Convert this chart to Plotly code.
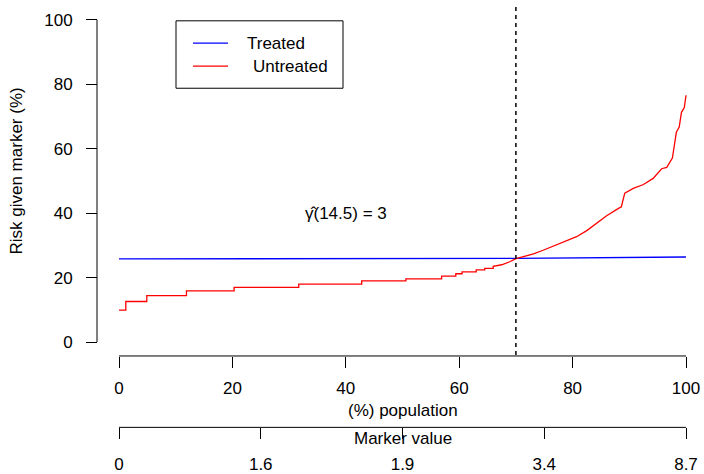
import plotly.graph_objects as go

# ---- data ----
pop_untreated = [0, 1.2, 1.2, 4.9, 4.9, 11.9, 11.9, 20.3, 20.3, 31.7, 31.7, 42.8, 42.8,
                 50.6, 50.6, 56.9, 56.9, 59.4, 59.4, 60.5, 60.5, 63, 63, 64.5, 64.5, 66, 66,
                 67.5, 69, 70, 71.5, 73.1, 74.8, 76.6, 78.4, 80.7, 82.5, 84.3, 86, 88.1,
                 88.6, 89.2, 90.7, 92.5, 94.2, 95.7, 96.6, 97.6, 98.3, 98.8, 99.2, 99.7, 100]
risk_untreated = [9.9, 9.9, 12.6, 12.6, 14.4, 14.4, 15.9, 15.9, 17.0, 17.0, 18.0, 18.0, 19.0,
                  19.0, 19.6, 19.6, 20.5, 20.5, 21.2, 21.2, 21.8, 21.8, 22.4, 22.4, 22.9, 22.9, 23.5,
                  24.0, 25.0, 25.9, 26.6, 27.4, 28.5, 29.8, 31.2, 32.7, 34.6, 36.9, 39.2, 41.5,
                  42.0, 46.2, 47.7, 48.9, 50.8, 53.8, 54.2, 57.1, 65.1, 66.7, 71.3, 72.8, 76.6]
pop_treated = [0, 70, 100]
risk_treated = [25.8, 26.0, 26.4]

cutoff_pop = 70
pop_ticks = [0, 20, 40, 60, 80, 100]
y_ticks = [0, 20, 40, 60, 80, 100]
marker_tick_pos = [0, 25, 50, 75, 100]
marker_tick_labels = ["0", "1.6", "1.9", "3.4", "8.7"]
legend_labels = ["Treated", "Untreated"]
annot_text = "γ\u0302(14.5) = 3"
annot_pos = (40, 40)

FONT = "Liberation Sans, Arial, sans-serif"
W, H = 704, 474
L = 97
PW = W - L
# pixel helpers for paper coords
def px(xp):
    return (xp - L) / PW
def py(yp):
    return 1 - yp / H

x_range = [-22 / 5.67, 100 + 18 / 5.67]
y_top = 345 / 3.25
y_bot = y_top - 359 / 3.25

fig = go.Figure()
fig.add_trace(go.Scatter(x=pop_treated, y=risk_treated, mode="lines",
                         line=dict(color="#0000FF", width=1.3), name=legend_labels[0],
                         showlegend=False, xaxis="x", yaxis="y"))
fig.add_trace(go.Scatter(x=pop_untreated, y=risk_untreated, mode="lines",
                         line=dict(color="#FF0000", width=1.3), name=legend_labels[1],
                         showlegend=False, xaxis="x", yaxis="y"))
# invisible trace to activate xaxis2
fig.add_trace(go.Scatter(x=[marker_tick_pos[0]], y=[None], mode="lines", showlegend=False,
                         xaxis="x2", yaxis="y", hoverinfo="skip"))

fig.update_layout(
    width=W, height=H,
    margin=dict(l=L, r=0, t=0, b=0),
    paper_bgcolor="white", plot_bgcolor="white",
    font=dict(family=FONT, size=17, color="black"),
    showlegend=False,
    xaxis=dict(range=x_range, domain=[0, 1], anchor="free", position=py(359),
               showgrid=False, zeroline=False, showline=False,
               tickmode="array", tickvals=pop_ticks, ticktext=[str(t) for t in pop_ticks],
               ticks="outside", ticklen=11, tickwidth=1, tickcolor="black",
               ticklabelstandoff=6, tickfont=dict(size=17)),
    xaxis2=dict(range=x_range, overlaying="x", anchor="free", position=py(431),
                showgrid=False, zeroline=False, showline=False,
                tickmode="array", tickvals=marker_tick_pos, ticktext=marker_tick_labels,
                ticks="outside", ticklen=11, tickwidth=1, tickcolor="black",
                ticklabelstandoff=10, tickfont=dict(size=17)),
    yaxis=dict(range=[y_bot, y_top], domain=[py(359), 1], anchor="free", position=0,
               showgrid=False, zeroline=False, showline=False,
               tickmode="array", tickvals=y_ticks, ticktext=[str(t) for t in y_ticks],
               ticks="outside", ticklen=11, tickwidth=1, tickcolor="black",
               ticklabelstandoff=10, tickfont=dict(size=17)),
)

shapes = []
# axis lines (R style: only spanning tick range)
shapes.append(dict(type="line", xref="paper", yref="y", x0=0, x1=0, y0=y_ticks[0], y1=y_ticks[-1],
                   line=dict(color="black", width=1)))
shapes.append(dict(type="line", xref="x", yref="paper", x0=pop_ticks[0], x1=pop_ticks[-1],
                   y0=py(359), y1=py(359), line=dict(color="black", width=1)))
shapes.append(dict(type="line", xref="x", yref="paper", x0=marker_tick_pos[0], x1=marker_tick_pos[-1],
                   y0=py(431), y1=py(431), line=dict(color="black", width=1)))
# cutoff dashed line
shapes.append(dict(type="line", xref="x", yref="y", x0=cutoff_pop, x1=cutoff_pop, y0=-4, y1=104,
                   line=dict(color="black", width=1.5, dash="4px,4px")))
# legend box
shapes.append(dict(type="rect", xref="paper", yref="paper", x0=px(176), x1=px(343),
                   y0=py(89), y1=py(21), line=dict(color="black", width=1), fillcolor="white"))
shapes.append(dict(type="line", xref="paper", yref="paper", x0=px(193), x1=px(228),
                   y0=py(43.5), y1=py(43.5), line=dict(color="#0000FF", width=1.3)))
shapes.append(dict(type="line", xref="paper", yref="paper", x0=px(193), x1=px(228),
                   y0=py(66.7), y1=py(66.7), line=dict(color="#FF0000", width=1.3)))
fig.update_layout(shapes=shapes)

annotations = [
    dict(text=legend_labels[0], xref="paper", yref="paper", x=px(245), y=py(44),
         xanchor="left", yanchor="middle", showarrow=False),
    dict(text=legend_labels[1], xref="paper", yref="paper", x=px(251), y=py(67),
         xanchor="left", yanchor="middle", showarrow=False),
    dict(text=annot_text, xref="x", yref="y", x=annot_pos[0], y=annot_pos[1],
         xanchor="center", yanchor="middle", showarrow=False),
    dict(text="(%) population", xref="x", yref="paper", x=50, y=py(414),
         xanchor="center", yanchor="middle", showarrow=False),
    dict(text="Marker value", xref="x", yref="paper", x=50, y=py(442),
         xanchor="center", yanchor="middle", showarrow=False),
    dict(text="Risk given marker (%)", xref="paper", yref="paper", x=px(17), y=py(173),
         xanchor="center", yanchor="middle", textangle=-90, showarrow=False),
]
fig.update_layout(annotations=annotations)

fig.write_html("out.html")
